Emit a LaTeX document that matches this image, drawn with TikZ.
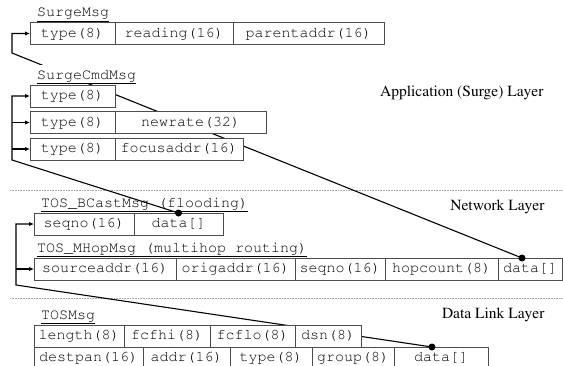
\documentclass[tikz,border=0pt]{standalone}
\usepackage[T1]{fontenc}
\usepackage{mathptmx}
\usepackage{courier}
\usetikzlibrary{positioning}
\usetikzlibrary{arrows.meta}
\usetikzlibrary{backgrounds}

\begin{document}
\begin{tikzpicture}[x=1pt, y=-1pt]
    % Styles:
    \tikzset{field/.style={draw=black!70, fill=white, line width=0.9pt, outer sep=0pt, inner sep=0pt, minimum height=22pt, font=\ttfamily\fontsize{15}{18}\selectfont}}
    \tikzset{msgname/.style={anchor=base west, fill=white, inner xsep=1pt, inner ysep=0pt, text height=14pt, text depth=4pt, font=\ttfamily\fontsize{15}{18}\selectfont}}
    \tikzset{layername/.style={anchor=east, font=\fontsize{15.5}{18}\selectfont}}
    \tikzset{link/.style={line width=1.1pt, -{Latex[length=5pt,width=4.5pt]}}}
    \tikzset{layersep/.style={densely dotted, black!35, line width=0.6pt}}

    \useasboundingbox (0,0) rectangle (563,365);

    % Surge messages:
    \node[field, minimum width=85pt, anchor=west] (s1) at (30,33.5) {type(8)};
    \node[field, minimum width=118pt, right=0pt of s1] (s2) {reading(16)};
    \node[field, minimum width=151pt, right=0pt of s2] (s3) {parentaddr(16)};
    \node[msgname] (surgemsg) at ([xshift=6pt, yshift=6pt]s1.north west) {\underline{SurgeMsg}};

    \node[field, minimum width=85pt, anchor=west] (c1) at (30,96) {type(8)};
    \node[field, minimum width=85pt, below=4.5pt of c1] (c2) {type(8)};
    \node[field, minimum width=151pt, right=0pt of c2] (c3) {newrate(32)};
    \node[field, minimum width=85pt, below=4.5pt of c2] (c4) {type(8)};
    \node[field, minimum width=128pt, right=0pt of c4] (c5) {focusaddr(16)};
    \node[msgname] (surgecmd) at ([xshift=6pt, yshift=6pt]c1.north west) {\underline{SurgeCmdMsg}};

    % Network messages:
    \node[field, minimum width=100pt, anchor=west] (b1) at (34,224) {seqno(16)};
    \node[field, minimum width=89pt, right=0pt of b1] (b2) {data[]};
    \node[msgname] (bcast) at ([xshift=6pt, yshift=6pt]b1.north west) {\underline{TOS\_BCastMsg (flooding)}};

    \node[field, minimum width=142pt, anchor=west] (m1) at (34,269) {sourceaddr(16)};
    \node[field, minimum width=119pt, right=0pt of m1] (m2) {origaddr(16)};
    \node[field, minimum width=90pt, right=0pt of m2] (m3) {seqno(16)};
    \node[field, minimum width=113pt, right=0pt of m3] (m4) {hopcount(8)};
    \node[field, minimum width=64pt, right=0pt of m4] (m5) {data[]};
    \node[msgname] (mhop) at ([xshift=2pt, yshift=6pt]m1.north west) {\underline{TOS\_MHopMsg (multihop routing)}};

    % Link messages:
    \node[field, minimum width=90pt, anchor=west] (t1) at (34,336) {length(8)};
    \node[field, minimum width=86pt, right=0pt of t1] (t2) {fcfhi(8)};
    \node[field, minimum width=85pt, right=0pt of t2] (t3) {fcflo(8)};
    \node[field, minimum width=66pt, right=0pt of t3] (t4) {dsn(8)};
    \node[field, minimum width=109pt, anchor=north west] (t5) at (t1.south west) {destpan(16)};
    \node[field, minimum width=87pt, right=0pt of t5] (t6) {addr(16)};
    \node[field, minimum width=82pt, right=0pt of t6] (t7) {type(8)};
    \node[field, minimum width=82pt, right=0pt of t7] (t8) {group(8)};
    \node[field, minimum width=94pt, right=0pt of t8] (t9) {data[]};
    \node[msgname] (tosmsg) at ([xshift=6pt, yshift=6pt]t1.north west) {\underline{TOSMsg}};

    % Layer names:
    \node[layername] (applayer) at (547,93) {Application (Surge) Layer};
    \node[layername] (netlayer) at (548,207) {Network Layer};
    \node[layername] (linklayer) at (548,315) {Data Link Layer};

    % Payload points and bends:
    \coordinate (bdot) at (b2.north);
    \coordinate (mdot) at ([xshift=24pt]m5.north west);
    \coordinate (tdot) at ([xshift=38pt]t9.north west);
    \coordinate (sbend) at (12,53);
    \coordinate (cbend) at (12,160);
    \coordinate (bbend) at (16,285);

    \begin{scope}[on background layer]
        \draw[layersep] (10,190) -- (563,190);
        \draw[layersep] (10,298) -- (563,298);
        \draw[link] (mdot) -- (sbend) |- (s1.west);
        \draw[link] (tdot) -- (bbend) |- (b1.west);
        \draw[link] (bbend |- m1.west) -- (m1.west);
    \end{scope}
    \draw[link] (bdot) -- (cbend) |- (c1.west);
    \draw[link] (cbend |- c2.west) -- (c2.west);
    \draw[link] (cbend |- c4.west) -- (c4.west);
    \fill (bdot) circle (3.5pt) (mdot) circle (3.5pt) (tdot) circle (3.5pt);
\end{tikzpicture}
\end{document}
